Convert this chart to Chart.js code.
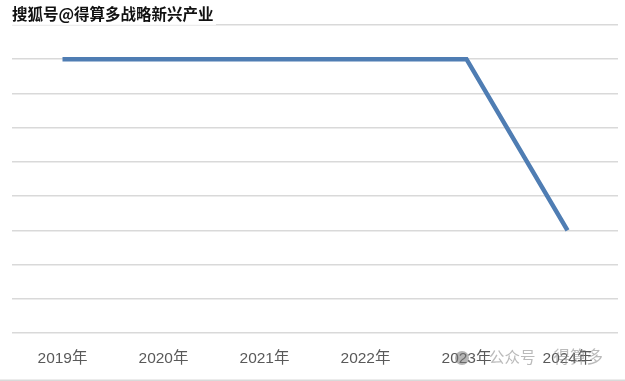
<!DOCTYPE html>
<html>
<head>
<meta charset="utf-8">
<script src="https://cdn.jsdelivr.net/npm/chart.js@4"></script>
<style>
html,body{margin:0;padding:0;background:#fff;}
#wrap{position:relative;width:625px;height:381px;overflow:hidden;}
#c{position:absolute;left:0;top:0;}
#title{position:absolute;left:12px;top:3px;font-family:"Noto Sans CJK SC";font-weight:700;font-size:15.5px;color:#111;
  text-shadow:1px 1px 0 #fff,-1px -1px 0 #fff,1px -1px 0 #fff,-1px 1px 0 #fff;background:rgba(255,255,255,0.85);padding:0 2px 2px 0;line-height:20px;letter-spacing:0px;}
#wm{position:absolute;left:455px;top:345px;font-family:"Noto Sans CJK SC";font-size:15.5px;color:rgba(140,140,140,0.6);line-height:22px;white-space:nowrap;}
#wm .ic{display:inline-block;width:14px;height:14px;border-radius:50%;background:rgba(120,120,120,0.55);vertical-align:-2px;margin-right:20px;}
#wm .b{margin-left:18px;font-size:16.5px;}
</style>
</head>
<body>
<div id="wrap">
<canvas id="c" width="625" height="381"></canvas>
<div id="title">搜狐号@得算多战略新兴产业</div>
<div id="wm"><span class="ic"></span>公众号<span class="b">得算多</span></div>
</div>
<script>
const categories = ["2019年","2020年","2021年","2022年","2023年","2024年"];
const values = [8, 8, 8, 8, 8, 3];
const yMin = 0, yMax = 9, yStep = 1;

const bottomBorder = {
  id: 'bottomBorder',
  afterDraw(chart) {
    const ctx = chart.ctx;
    ctx.save();
    ctx.strokeStyle = '#d9d9d9';
    ctx.lineWidth = 1.5;
    ctx.beginPath();
    ctx.moveTo(0, 380.25);
    ctx.lineTo(625, 380.25);
    ctx.stroke();
    ctx.restore();
  }
};

new Chart(document.getElementById('c'), {
  type: 'line',
  data: {
    labels: categories,
    datasets: [{
      data: values,
      borderColor: '#4f7db3',
      borderWidth: 4.5,
      tension: 0,
      pointRadius: 0,
      pointHoverRadius: 0,
      borderCapStyle: 'butt',
      borderJoinStyle: 'miter',
      fill: false
    }]
  },
  options: {
    responsive: false,
    animation: false,
    events: [],
    layout: { padding: { left: 12, right: 7, top: 25, bottom: 0 } },
    plugins: { legend: { display: false }, tooltip: { enabled: false }, title: { display: false } },
    scales: {
      x: {
        offset: true,
        grid: { display: false, drawTicks: false },
        border: { display: false },
        ticks: {
          color: '#595959',
          font: { family: "'Liberation Sans', 'Noto Sans CJK SC'", size: 15.5 },
          padding: 16,
          maxRotation: 0,
          autoSkip: false
        },
        afterFit(s) { s.height = 48; }
      },
      y: {
        min: yMin, max: yMax,
        ticks: { display: false, stepSize: yStep },
        grid: { color: '#d9d9d9', lineWidth: 1.5, drawTicks: false },
        border: { display: false },
        afterFit(s) { s.width = 0; }
      }
    }
  },
  plugins: [bottomBorder]
});
</script>
</body>
</html>
